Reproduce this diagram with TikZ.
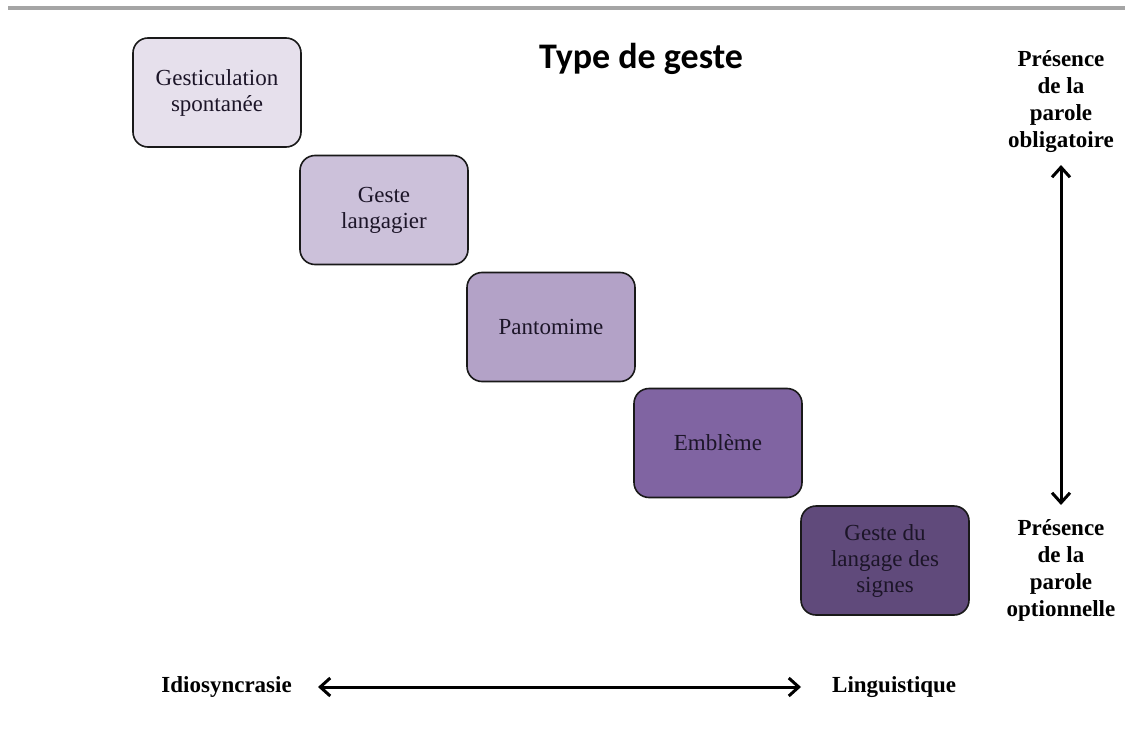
\documentclass[tikz,border=0pt]{standalone}
\usepackage{fontspec}
\setmainfont{Liberation Serif}
\newfontfamily\titlefont{Carlito}
\usetikzlibrary{arrows.meta}
\definecolor{barcol}{HTML}{A5A5A5}
\definecolor{cA}{HTML}{E6E0EC}
\definecolor{cB}{HTML}{CCC1DA}
\definecolor{cC}{HTML}{B3A2C7}
\definecolor{cD}{HTML}{8064A2}
\definecolor{cE}{HTML}{604A7B}
\definecolor{txt}{HTML}{1C1528}
\tikzset{
  gbox/.style={draw=black!90, line width=1.6pt, rounded corners=15pt,
    minimum width=168pt, minimum height=109pt, align=center,
    font=\fontsize{23}{26}\selectfont, text=txt, inner sep=0pt},
  lab/.style={font=\bfseries\fontsize{23}{27}\selectfont, align=center, inner sep=0pt},
  axis/.style={line width=3pt,
    {Straight Barb[length=10pt,width=18pt]}-{Straight Barb[length=10pt,width=18pt]}}
}
\begin{document}
\begin{tikzpicture}[x=1pt,y=-1pt]
\useasboundingbox (0,0) rectangle (1125,744);
\fill[white] (0,0) rectangle (1125,744);
\fill[barcol] (8,6) rectangle (1125,10);

\node[anchor=base, inner sep=0pt, font=\titlefont\bfseries\fontsize{36}{42}\selectfont] (title) at (641,68) {Type de geste};

\node[gbox, fill=cA] (b1) at (217,92.5) {Gesticulation\\spontanée};
\node[gbox, fill=cB] (b2) at (384,210) {Geste\\langagier};
\node[gbox, fill=cC] (b3) at (551,327) {Pantomime};
\node[gbox, fill=cD] (b4) at (718,443) {Emblème};
\node[gbox, fill=cE] (b5) at (885,560.5) {Geste du\\langage des\\signes};

\node[lab, anchor=south] (oblig) at (1061,153) {Présence\\de la\\parole\\obligatoire};
\node[lab, anchor=north] (opt) at (1061,519) {Présence\\de la\\parole\\optionnelle};
\draw[axis, shorten <=12pt, shorten >=14pt] (oblig.south) -- (opt.north);

\node[lab, anchor=east] (idio) at (292,687) {Idiosyncrasie};
\node[lab, anchor=west] (ling) at (832,687) {Linguistique};
\draw[axis, shorten <=26pt, shorten >=31pt] (idio.east) -- (ling.west);
\end{tikzpicture}
\end{document}
